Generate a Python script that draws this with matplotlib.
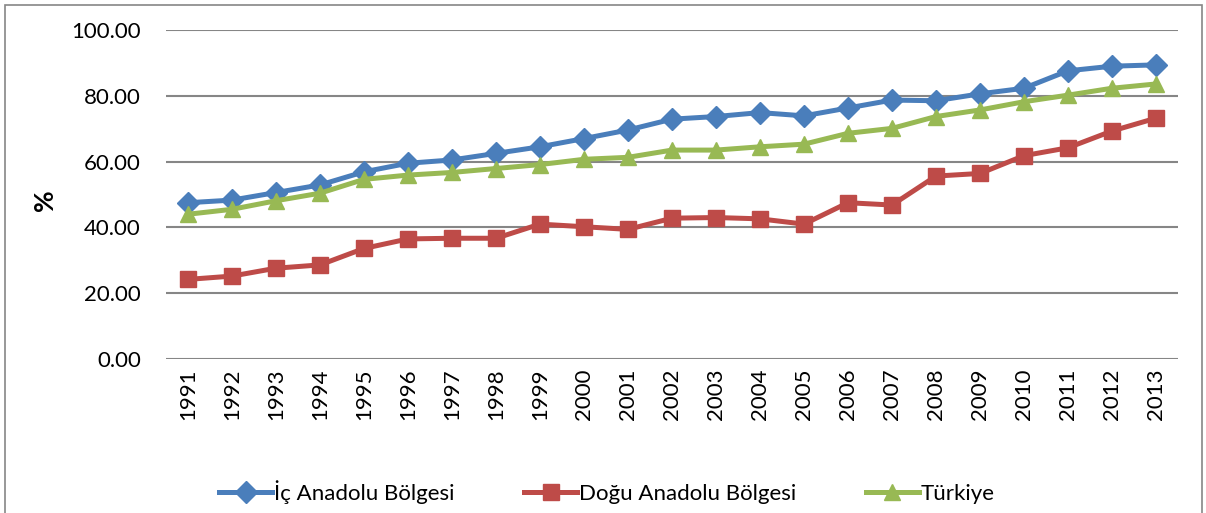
import matplotlib.pyplot as plt
from matplotlib.patches import Rectangle

plt.rcParams['font.family'] = ['Lato', 'DejaVu Sans']

years = [str(y) for y in range(1991, 2014)]
ic_anadolu = [47.5, 48.3, 50.6, 52.9, 56.9, 59.5, 60.5, 62.5, 64.5, 67.0, 69.6,
              72.9, 73.7, 74.9, 73.9, 76.3, 78.7, 78.5, 80.6, 82.3, 87.6, 89.0, 89.4]
dogu_anadolu = [24.2, 25.2, 27.6, 28.6, 33.6, 36.5, 36.7, 36.7, 41.0, 40.2, 39.4,
                42.8, 43.0, 42.6, 41.0, 47.5, 46.8, 55.6, 56.4, 61.8, 64.2, 69.3, 73.2]
turkiye = [44.0, 45.5, 48.1, 50.4, 54.6, 55.9, 56.7, 57.9, 59.1, 60.7, 61.3,
           63.5, 63.5, 64.5, 65.3, 68.6, 70.1, 73.7, 75.7, 78.2, 80.2, 82.3, 83.6]
yticks = [0, 20, 40, 60, 80, 100]

fig = plt.figure(figsize=(12.06, 5.13), dpi=100)
ax = fig.add_axes([166 / 1206, 1 - 359 / 513, (1178 - 166) / 1206, (359 - 30) / 513])

# chart frame
fig.patches.append(Rectangle((5 / 1206, -0.01), 1197 / 1206, 1 - 5 / 513 + 0.01,
                             transform=fig.transFigure, fill=False,
                             edgecolor='#868686', linewidth=1.2))

x = range(len(years))
ax.plot(x, ic_anadolu, color='#4A7EBB', lw=3.6, marker='D', ms=11,
        label='İç Anadolu Bölgesi', zorder=3)
ax.plot(x, dogu_anadolu, color='#BE4B48', lw=3.6, marker='s', ms=11,
        label='Doğu Anadolu Bölgesi', zorder=3)
ax.plot(x, turkiye, color='#98B954', lw=3.6, marker='^', ms=12,
        label='Türkiye', zorder=3)

ax.set_xlim(-0.5, len(years) - 0.5)
ax.set_ylim(0, 100)
ax.set_yticks(yticks)
ax.set_yticklabels([f'{v:.2f}' for v in yticks], fontsize=16)
ax.set_xticks(list(x))
ax.set_xticklabels(years, rotation=90, fontsize=16)
ax.tick_params(length=0, pad=18)
ax.tick_params(axis='x', pad=7)
ax.grid(axis='y', color='#868686', lw=1.5)
ax.set_axisbelow(True)
for s in ['left', 'right', 'top', 'bottom']:
    ax.spines[s].set_visible(False)

fig.text(45 / 1206, 1 - 200 / 513, '%', rotation=90, fontsize=19,
         fontweight='bold', ha='center', va='center')

fig.legend(loc='center', bbox_to_anchor=(607 / 1206, 1 - 492 / 513), ncol=3,
           frameon=False, fontsize=16, handlelength=2.4, columnspacing=3.1,
           handletextpad=0.1)

fig.savefig('out.png', dpi=100)
